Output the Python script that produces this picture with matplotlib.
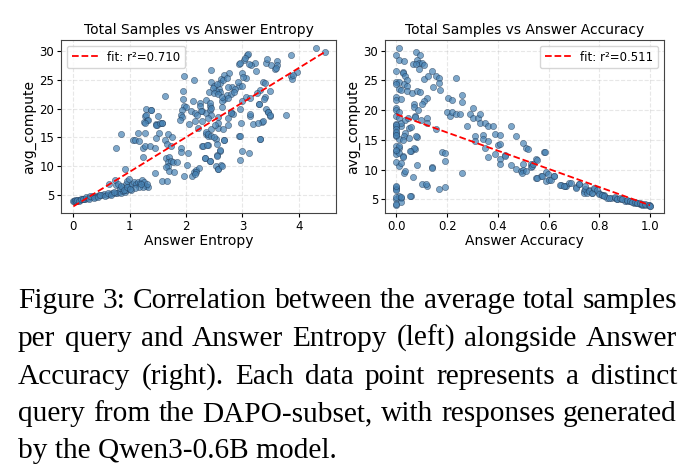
import numpy as np
import matplotlib
matplotlib.use('Agg')
import matplotlib.pyplot as plt

# left panel: answer entropy vs avg_compute
entropy = [4.31,4.47,3.87,3.08,3.03,3.23,3.42,2.94,3.15,3.24,3.62,3.51,3.62,3.57,3.96,3.87,3.88,2.44,2.76,2.68,
           2.62,2.45,2.14,1.96,2.60,2.99,3.07,3.01,2.93,2.82,2.87,2.74,2.58,2.50,2.40,2.60,2.53,1.94,1.62,2.13,
           2.24,1.94,2.67,2.63,3.07,3.13,3.40,3.39,3.49,3.31,3.37,3.40,3.00,1.96,2.00,2.08,2.16,1.92,1.91,1.92,
           2.28,2.36,2.42,2.43,2.44,2.29,2.15,2.05,1.89,2.21,2.57,2.63,2.80,2.83,2.75,2.95,3.13,3.29,3.18,3.42,
           3.45,3.48,3.77,3.35,1.29,1.37,1.27,1.31,1.25,1.46,1.49,1.50,1.57,1.14,1.27,0.85,1.05,1.10,1.17,1.24,
           1.27,1.36,1.45,1.46,1.52,1.62,1.68,1.66,1.75,1.73,0.76,1.23,1.65,1.69,1.68,1.73,1.76,1.83,1.67,1.64,
           1.69,1.78,1.45,1.58,1.66,1.91,1.91,2.03,2.02,1.97,2.11,2.14,2.17,2.22,2.29,2.35,2.38,2.38,2.33,2.42,
           2.53,2.45,2.57,2.65,2.54,2.60,2.54,2.53,2.62,2.57,2.67,2.93,2.95,3.00,3.12,3.32,3.31,0.92,
           0.00,0.03,0.06,0.09,0.12,0.15,0.18,0.21,0.26,0.32,0.35,0.38,0.41,0.46,0.50,0.54,0.59,0.65,0.69,0.74,
           0.78,0.81,0.85,0.88,0.92,0.94,0.97,0.99,0.93,0.96,0.98,0.87,0.82,0.76,0.74,0.79,0.84,1.04,1.07,1.11,
           1.14,1.18,1.21,1.25,1.28,1.33,1.24,1.16,1.09,1.02,
           0.01,0.02,0.04,0.07,0.10,0.13,0.17,0.23,0.28,0.30,0.36,0.44,0.48,0.56,0.62,0.67,0.72,0.90,0.95,1.00,
           1.20,1.30,0.63,
           2.36,2.39,2.44,2.50,2.68,2.95,2.30,2.37,2.61,2.55,2.34,2.43,2.57,2.63,2.18,2.15,
           2.55,2.65,2.72,2.92,3.00,3.25,2.47,2.50,2.56,2.63,2.72,2.80,2.85,2.75,2.35,3.89,3.09,3.05,2.96,3.12,
           3.43,3.59,2.42,2.44,2.39,2.80,3.14,3.30,3.46,3.49,3.36,3.27,2.98,2.74,2.56,2.52,2.24,2.27,2.20,
           1.38,1.28,1.33,1.27,1.47,1.53,1.58]
entropy_compute = [30.5,29.8,29.3,29.3,28.4,27.9,27.9,27.7,27.5,26.5,28.3,27.6,27.5,26.9,26.3,25.7,25.1,26.7,26.2,25.9,
                   25.2,24.7,24.9,25.7,24.5,26.1,25.3,25.5,23.9,23.7,23.4,23.7,23.4,24.0,22.8,22.9,23.1,23.0,22.2,21.4,
                   21.0,21.7,21.6,21.3,22.1,21.9,22.0,21.6,23.1,23.2,24.6,24.4,21.4,20.5,20.2,19.6,19.2,19.8,18.9,18.6,
                   19.6,19.2,20.5,19.7,18.9,17.9,17.9,17.4,18.1,16.6,18.6,20.2,19.4,19.0,18.3,19.9,18.8,20.8,17.4,19.9,
                   19.4,18.8,18.9,17.6,20.0,19.7,18.7,18.1,17.7,17.3,17.2,18.7,17.5,15.8,15.7,15.6,14.5,14.5,14.3,13.2,
                   13.6,13.6,13.2,14.9,15.8,14.5,15.6,13.9,15.1,13.5,13.1,11.6,11.4,11.6,10.7,10.9,10.7,10.8,10.1,9.8,
                   9.2,9.0,8.8,7.4,7.4,13.1,12.4,12.3,10.3,8.3,8.4,9.0,9.3,9.7,13.5,15.6,15.3,13.7,11.5,10.9,
                   14.8,16.5,16.7,16.5,13.8,12.7,11.9,10.0,10.3,9.6,14.5,15.2,11.1,12.7,12.3,14.8,14.7,9.5,
                   3.94,4.06,4.06,4.12,4.18,4.29,4.41,4.35,4.53,4.70,4.82,4.76,4.88,4.94,5.00,5.12,5.06,5.24,5.35,5.41,
                   5.29,5.53,5.41,5.70,5.59,5.94,6.18,6.53,6.88,7.47,7.82,6.41,6.18,6.76,7.65,6.88,6.65,6.88,7.24,7.00,
                   7.35,7.12,7.59,7.35,6.65,6.41,6.41,6.41,6.29,5.94,
                   4.00,4.10,3.98,4.20,4.05,4.30,4.25,4.60,4.40,4.90,4.55,4.70,5.10,4.90,5.30,5.10,5.60,5.90,6.40,6.10,
                   6.90,7.00,6.90,
                   16.0,15.6,15.2,15.1,14.6,15.3,13.6,13.7,12.8,11.8,11.5,10.9,9.5,10.1,9.05,8.6,
                   24.3,24.9,25.3,24.6,23.9,22.7,23.6,22.7,22.5,22.1,22.3,22.5,22.9,21.8,21.5,25.8,29.5,28.7,27.96,27.8,
                   28.6,27.1,21.0,20.1,18.4,19.3,19.0,20.8,19.4,18.9,17.8,17.5,17.5,17.2,17.5,17.2,20.4,19.6,18.9,
                   19.8,18.9,18.1,17.5,17.2,17.5,17.5]

# right panel: answer accuracy vs avg_compute
accuracy = [0.01,0.00,0.01,0.00,0.00,0.01,0.00,0.01,0.02,0.00,0.00,0.02,0.00,0.00,0.01,0.00,0.01,0.00,0.02,0.02,
            0.00,0.00,0.00,0.01,0.00,0.01,0.00,0.00,0.01,0.01,0.00,0.01,0.02,0.00,0.00,0.00,0.00,0.02,0.02,0.00,
            0.01,0.00,0.00,0.00,0.00,0.00,0.00,0.00,0.02,0.00,
            0.025,0.028,0.034,0.064,0.08,0.056,0.10,0.12,0.14,0.167,0.19,0.18,0.19,0.26,0.08,0.056,0.072,
            0.077,0.094,0.08,0.066,0.09,0.10,0.076,0.11,0.09,0.03,0.024,0.026,0.035,0.04,0.03,0.04,0.04,0.063,0.08,
            0.092,0.11,0.124,0.14,0.157,0.168,0.144,0.168,0.173,0.12,0.108,0.10,0.07,0.071,0.085,0.072,0.072,0.097,0.12,0.12,
            0.035,0.045,0.05,0.056,0.035,0.031,0.048,0.026,0.079,0.068,0.055,0.026,0.157,0.14,0.118,0.19,0.055,
            0.236,0.26,0.26,0.205,0.22,0.20,0.21,0.22,0.236,0.25,0.29,0.30,0.30,0.32,0.33,0.33,0.35,0.28,0.36,0.38,
            0.39,0.41,0.45,0.47,0.34,0.31,0.31,0.34,0.36,0.35,0.36,0.39,0.40,0.41,0.43,0.41,0.41,0.45,0.47,0.43,
            0.50,0.51,0.52,0.50,0.49,0.50,0.53,0.53,0.55,0.55,0.57,0.58,0.59,0.59,0.60,0.62,0.65,0.665,0.67,0.68,
            0.71,0.72,
            0.74,0.74,0.76,0.77,0.78,0.80,0.81,0.82,0.83,0.845,0.86,0.87,0.885,0.90,0.91,0.92,0.935,0.95,0.96,0.97,
            0.98,0.995,1.00,
            0.744,0.75,0.76,0.77,0.78,0.79,0.80,0.81,0.82,0.84,0.86,0.87,0.88,0.89,0.91,0.92,0.93,0.94,0.95,0.96,
            0.97,0.98,0.995,1.00,
            0.554,0.574,0.596,0.61,0.62,0.646,0.66,0.69,0.71,0.72,0.745,0.495,0.51,0.534,0.54,0.556,0.585]
accuracy_compute = [30.4,29.3,28.4,26.6,24.8,24.7,24.4,23.6,23.4,22.2,21.7,21.9,20.4,20.0,19.7,19.1,18.6,17.7,17.4,17.8,
                    17.2,16.1,15.6,15.1,13.9,13.6,13.2,12.7,14.0,12.8,11.2,10.6,11.1,7.1,6.8,6.6,5.1,5.3,4.6,4.0,
                    5.6,17.5,16.9,16.4,15.8,13.3,7.2,5.4,5.4,4.2,
                    12.3,9.4,9.7,8.7,10.8,5.6,7.5,7.3,10.4,6.7,7.1,12.9,11.4,9.4,15.4,13.2,13.5,
                    29.7,29.3,28.4,27.8,28.0,28.0,27.7,27.6,26.9,28.3,26.4,26.2,25.7,25.0,24.4,24.0,23.2,22.9,23.3,
                    23.0,25.2,25.7,26.6,25.7,25.4,23.9,24.6,23.4,22.1,21.5,21.1,21.0,20.6,20.0,19.1,18.8,18.4,18.6,17.9,
                    18.3,18.6,17.0,17.2,16.2,15.7,15.3,15.0,15.6,13.6,13.1,12.2,16.9,10.3,7.6,12.8,5.6,
                    25.4,22.6,21.4,22.1,21.7,19.7,19.0,19.7,19.3,19.3,19.3,20.4,18.6,18.7,19.4,17.9,17.8,17.3,17.3,17.4,
                    16.0,15.8,17.4,15.6,15.8,15.6,14.8,15.1,14.8,13.7,12.1,12.7,14.1,14.3,12.4,11.8,11.0,10.8,10.1,12.3,
                    14.4,13.6,13.4,11.0,9.7,10.0,10.9,10.4,11.7,8.6,8.9,12.9,9.6,8.1,8.2,8.9,7.4,7.2,7.2,7.8,
                    7.1,7.6,
                    6.4,6.1,6.6,6.1,6.7,6.0,5.8,5.7,5.3,5.3,5.2,5.0,5.0,4.8,4.8,4.7,4.4,4.3,4.2,4.1,
                    4.05,4.0,3.95,
                    6.67,6.1,6.4,6.1,6.9,6.5,5.9,5.7,5.6,5.3,5.4,5.05,5.2,5.0,4.95,4.7,4.6,4.5,4.4,4.3,
                    4.2,4.15,4.05,3.95,
                    8.6,8.9,9.3,8.2,8.9,7.4,7.3,7.7,6.9,7.6,7.2,9.4,9.7,10.6,10.9,11.6,13.0]

# dashed fit lines: (slope, intercept, label)
fit_entropy = (6.0, 3.05, 'fit: r²=0.710')
fit_accuracy = (-15.3, 19.3, 'fit: r²=0.511')

caption_lines = [
    'Figure 3: Correlation between the average total samples',
    'per query and Answer Entropy (left) alongside Answer',
    'Accuracy (right). Each data point represents a distinct',
    'query from the DAPO-subset, with responses generated',
    'by the Qwen3-0.6B model.',
]

W, H = 687, 476
fig = plt.figure(figsize=(W / 100, H / 100), dpi=100)

ax1 = fig.add_axes([61 / W, 1 - 213 / H, 275 / W, 173 / H])
ax2 = fig.add_axes([385 / W, 1 - 213 / H, 279 / W, 173 / H])

panels = [
    (ax1, entropy, entropy_compute, fit_entropy, 'Total Samples vs Answer Entropy', 'Answer Entropy', 'upper left'),
    (ax2, accuracy, accuracy_compute, fit_accuracy, 'Total Samples vs Answer Accuracy', 'Answer Accuracy', 'upper right'),
]
for ax, xs, ys, fit, title, xlabel, loc in panels:
    xs = np.array(xs)
    ys = np.array(ys)
    ax.scatter(xs, ys, s=20, c='steelblue', alpha=0.7, edgecolors='#1f3550', linewidths=0.4, zorder=2)
    xl = np.linspace(xs.min(), xs.max(), 50)
    ax.plot(xl, fit[0] * xl + fit[1], 'r--', lw=1.3, label=fit[2], zorder=3)
    ax.set_title(title, fontsize=10, pad=4)
    ax.set_xlabel(xlabel, fontsize=10, labelpad=1)
    ax.set_ylabel('avg_compute', fontsize=10, labelpad=2)
    ax.tick_params(labelsize=8.5, length=3, pad=2)
    ax.grid(True, linestyle='--', alpha=0.3)
    ax.legend(loc=loc, fontsize=8.5, handlelength=2.2, borderpad=0.4)
    for sp in ax.spines.values():
        sp.set_color('#444444')

ax1.set_xlim(-0.22, 4.66)
ax1.set_ylim(1.9, 31.9)
ax1.set_xticks([0, 1, 2, 3, 4])
ax1.set_yticks([5, 10, 15, 20, 25, 30])
ax2.set_xlim(-0.045, 1.055)
ax2.set_ylim(2.7, 31.8)
ax2.set_xticks([0.0, 0.2, 0.4, 0.6, 0.8, 1.0])
ax2.set_yticks([5, 10, 15, 20, 25, 30])

# justified caption, laid out word by word
renderer = fig.canvas.get_renderer()
left_px, right_px = 18, 677
baselines = [308, 346, 384, 421, 458]

# pick the font size so the longest full line fills the text width naturally
probe = fig.text(0, 0, '', fontsize=17, family='Liberation Serif')
natural = []
for line in caption_lines[:-1]:
    probe.set_text(line)
    natural.append(probe.get_window_extent(renderer).width)
probe.remove()
cap_size = 17 * (right_px - left_px) / max(natural) * 0.995

cap_font = dict(fontsize=cap_size, family='Liberation Serif', va='baseline', ha='left')
for i, line in enumerate(caption_lines):
    yb = 1 - baselines[i] / H
    if i == len(caption_lines) - 1:
        fig.text(left_px / W, yb, line, **cap_font)
        continue
    words = line.split()
    texts = [fig.text(0, yb, w, **cap_font) for w in words]
    widths = [t.get_window_extent(renderer).width for t in texts]
    gap = (right_px - left_px - sum(widths)) / (len(words) - 1)
    x = left_px
    for t, wd in zip(texts, widths):
        t.set_x(x / W)
        x += wd + gap

fig.savefig('out.png', dpi=100)
